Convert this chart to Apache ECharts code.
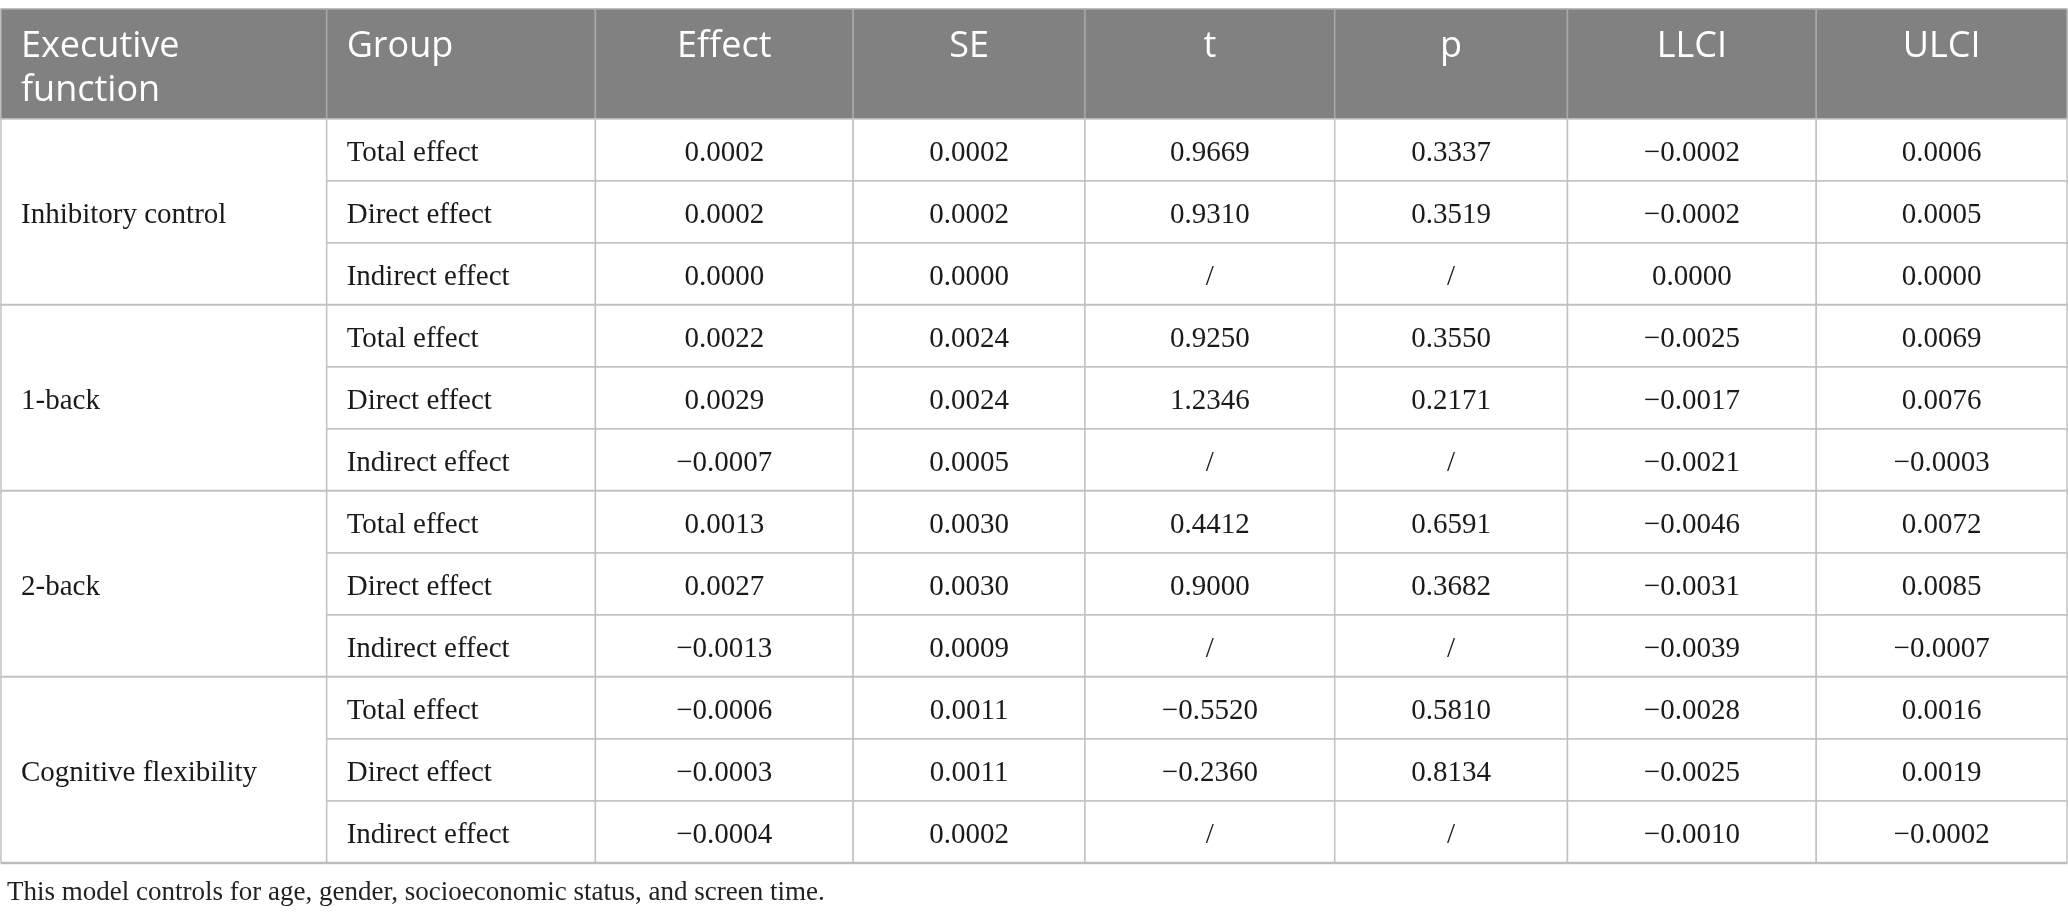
<!DOCTYPE html>
<html>
<head>
<meta charset="utf-8">
<title>Executive function mediation table</title>
<script src="https://cdn.jsdelivr.net/npm/echarts@6/dist/echarts.min.js"></script>
<style>
  html, body { margin: 0; padding: 0; background: #ffffff; }
  #table-chart { width: 2068px; height: 919px; }
</style>
</head>
<body>
<div id="table-chart"></div>
<script>
// table content
var colHeaders = ["Executive\nfunction", "Group", "Effect", "SE", "t", "p", "LLCI", "ULCI"];
var groups = ["Inhibitory control", "1-back", "2-back", "Cognitive flexibility"];
var effectTypes = ["Total effect", "Direct effect", "Indirect effect"];
var effect = [0.0002, 0.0002, 0.0000, 0.0022, 0.0029, -0.0007, 0.0013, 0.0027, -0.0013, -0.0006, -0.0003, -0.0004];
var se = [0.0002, 0.0002, 0.0000, 0.0024, 0.0024, 0.0005, 0.0030, 0.0030, 0.0009, 0.0011, 0.0011, 0.0002];
var tValues = [0.9669, 0.9310, null, 0.9250, 1.2346, null, 0.4412, 0.9000, null, -0.5520, -0.2360, null];
var pValues = [0.3337, 0.3519, null, 0.3550, 0.2171, null, 0.6591, 0.3682, null, 0.5810, 0.8134, null];
var llci = [-0.0002, -0.0002, 0.0000, -0.0025, -0.0017, -0.0021, -0.0046, -0.0031, -0.0039, -0.0028, -0.0025, -0.0010];
var ulci = [0.0006, 0.0005, 0.0000, 0.0069, 0.0076, -0.0003, 0.0072, 0.0085, -0.0007, 0.0016, 0.0019, -0.0002];
var note = "This model controls for age, gender, socioeconomic status, and screen time.";

// layout (axis units = px of the table)
var colWidths = [326, 269, 258, 232, 250, 233, 249, 251];
var headerHeight = 110;
var rowHeight = 62;

function fmt(v) {
    if (v === null) return "/";
    return v.toFixed(4).replace("-", "\u2212");
}

var colEdges = [0];
colWidths.forEach(function(w, i) { colEdges.push(colEdges[i] + w); });
var totalWidth = colEdges[colEdges.length - 1];
var nRows = groups.length * effectTypes.length;
var totalHeight = headerHeight + nRows * rowHeight;
function rowTop(r) { return headerHeight + r * rowHeight; }

var numberCols = [effect, se, tValues, pValues, llci, ulci];
var cells = [];

colHeaders.forEach(function(h, c) {
    cells.push({ x0: colEdges[c], x1: colEdges[c + 1], y0: 0, y1: headerHeight,
        kind: "head", text: h, align: c < 2 ? "left" : "center" });
});
groups.forEach(function(g, gi) {
    var r0 = gi * effectTypes.length;
    cells.push({ x0: colEdges[0], x1: colEdges[1], y0: rowTop(r0), y1: rowTop(r0 + effectTypes.length),
        kind: "body", text: g, align: "left" });
    effectTypes.forEach(function(et, ei) {
        var r = r0 + ei;
        cells.push({ x0: colEdges[1], x1: colEdges[2], y0: rowTop(r), y1: rowTop(r + 1),
            kind: "body", text: et, align: "left" });
        numberCols.forEach(function(arr, k) {
            cells.push({ x0: colEdges[k + 2], x1: colEdges[k + 3], y0: rowTop(r), y1: rowTop(r + 1),
                kind: "body", text: fmt(arr[r]), align: "center" });
        });
    });
    cells.push({ x0: 0, x1: totalWidth, y0: rowTop(r0 + effectTypes.length), y1: rowTop(r0 + effectTypes.length),
        kind: "sep" });
});

var chart = echarts.init(document.getElementById("table-chart"));
var option = {
    animation: false,
    title: {
        text: note,
        left: 2,
        top: 874,
        textStyle: {
            fontFamily: "Liberation Serif",
            fontSize: 27,
            fontWeight: "normal",
            color: "#222222"
        }
    },
    grid: {
        left: 1,
        right: 1,
        top: 9,
        bottom: 56
    },
    xAxis: {
        type: "value",
        min: 0,
        max: totalWidth,
        show: false
    },
    yAxis: {
        type: "value",
        min: 0,
        max: totalHeight,
        inverse: true,
        show: false
    },
    series: [{
        type: "custom",
        clip: false,
        data: cells.map(function(c) { return [c.x0, c.x1, c.y0, c.y1]; }),
        renderItem: function(params, api) {
            var c = cells[params.dataIndex];
            var p0 = api.coord([api.value(0), api.value(2)]);
            var p1 = api.coord([api.value(1), api.value(3)]);
            if (c.kind === "sep") {
                return {
                    type: "line",
                    shape: { x1: p0[0], y1: p0[1], x2: p1[0], y2: p1[1] },
                    style: { stroke: "#bdbdbd", lineWidth: 2.5 }
                };
            }
            var head = c.kind === "head";
            var w = p1[0] - p0[0], h = p1[1] - p0[1];
            var tx = c.align === "left" ? p0[0] + 20 : p0[0] + w / 2;
            return {
                type: "group",
                children: [{
                    type: "rect",
                    shape: { x: p0[0], y: p0[1], width: w, height: h },
                    style: {
                        fill: head ? "#808180" : "#ffffff",
                        stroke: head ? "#a9a9a9" : "#c2c2c2",
                        lineWidth: 1.5
                    }
                }, {
                    type: "text",
                    style: {
                        text: c.text,
                        x: tx,
                        y: head ? p0[1] + 16 : p0[1] + h / 2 + 3,
                        align: c.align,
                        verticalAlign: head ? "top" : "middle",
                        fontFamily: head ? "Open Sans" : "Liberation Serif",
                        fontSize: head ? 36 : 29,
                        lineHeight: head ? 44 : 30,
                        fill: head ? "#ffffff" : "#1a1a1a"
                    }
                }]
            };
        }
    }]
};
chart.setOption(option);
window.addEventListener("resize", function() {
    chart.resize();
});
</script>
</body>
</html>
